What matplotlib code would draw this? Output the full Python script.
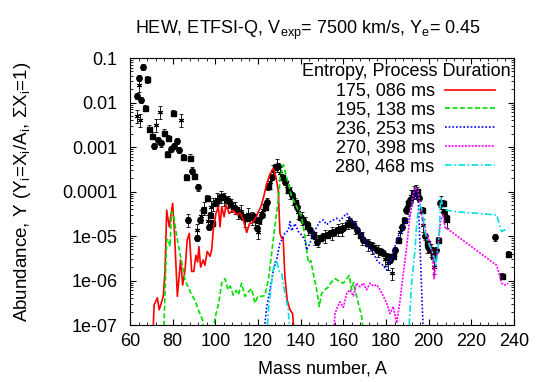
import numpy as np
import matplotlib
matplotlib.use("Agg")
import matplotlib.pyplot as plt
from matplotlib.ticker import FixedLocator, MultipleLocator, LogLocator, NullFormatter

plt.rcParams['font.family'] = ['Liberation Sans', 'DejaVu Sans']
plt.rcParams['mathtext.fontset'] = 'custom'
plt.rcParams['mathtext.rm'] = 'Liberation Sans'
plt.rcParams['mathtext.it'] = 'Liberation Sans'

# HEW model curves: (mass number, abundance)
red_A = [70.5, 71.3, 72.8, 73.7, 75.6, 76.4, 77.2, 78.4, 80, 80.8, 82.2, 83.7, 84.7, 85.8, 86.8,
         87.8, 88.9, 89.9, 90.9, 91.7, 92.3, 93.1, 94.3, 95.1, 96.2, 97.5, 98.3, 99.0, 100.3,
         101.4, 102.2, 103, 104.1, 105, 106.5, 108.3, 110, 111.6, 113.1, 114.7, 116, 117.5, 119,
         120.1, 121.3, 122.5, 124.1, 125.5, 127.2, 128.3, 129.5, 130.3, 131.1, 131.8, 132.6,
         133.7, 135.0, 136.2, 137.2]
red_Y = [3e-8, 2.8e-7, 4.1e-7, 2.2e-7, 4.4e-7, 1.6e-6, 3.8e-5, 1.6e-5, 5.4e-5, 1.35e-5, 4.4e-7,
         2.9e-6, 7.9e-7, 1.7e-6, 8.1e-6, 1.15e-5, 1.6e-6, 1.6e-6, 3.7e-6, 2.6e-6, 5.8e-6, 2.0e-6,
         2.9e-6, 2.2e-6, 4.5e-6, 3.5e-6, 4.9e-6, 1.35e-5, 3.2e-5, 4.6e-5, 1.6e-5, 4.6e-5, 2.7e-5,
         5.0e-5, 3.2e-5, 3.8e-5, 3.0e-5, 3.3e-5, 2.3e-5, 1.2e-5, 1.9e-5, 2.0e-5, 2.6e-5, 3.5e-5,
         4.5e-5, 7.1e-5, 1.5e-4, 2.4e-4, 3.3e-4, 2.2e-4, 1.07e-4, 1.15e-5, 8.9e-6, 9e-6, 1.23e-6,
         3.6e-7, 2.2e-7, 1.8e-7, 5e-8]

green_A = [75.6, 77.2, 78, 78.75, 79.5, 80.3, 81.9, 83.4, 85, 85.8, 87.3, 88.9, 90.5, 92, 94, 95,
           98.5, 99.8, 101.5, 103, 104.5, 106, 107, 108.4, 109.8, 110.8, 112.3, 113.9, 115.4, 117,
           118.6, 120, 121.7, 123.2, 124.8, 126.4, 128, 129.5, 130.5, 131.9, 134.2, 135.8, 138.1,
           140.4, 142, 143.6, 144.8, 145.9, 147.5, 148.7, 149.8, 151.4, 153, 154.5, 156.1, 157.5,
           158.5, 160, 161.6, 162.8, 163.9, 164.8, 165.9, 167, 168.6, 169.8]
green_Y = [3e-8, 8.1e-6, 8.5e-6, 5.8e-6, 3.5e-5, 3.2e-5, 9.8e-6, 4.1e-6, 1.7e-6, 1.0e-6, 7.2e-7,
           4.7e-7, 3.6e-7, 2.2e-7, 1.3e-7, 5e-8, 5e-8, 1.4e-7, 3e-7, 8.7e-7, 1.1e-6, 6.2e-7, 7.5e-7,
           4.7e-7, 6e-7, 4.8e-7, 8.7e-7, 4.4e-7, 5.5e-7, 6.6e-7, 3.1e-7, 4.5e-7, 4.4e-7, 4.6e-7,
           1.0e-6, 4.1e-6, 1.8e-5, 6.5e-5, 2.2e-4, 4.0e-4, 1.5e-4, 7.6e-5, 4.6e-5, 2.7e-5, 9.8e-6,
           2.5e-6, 2.8e-6, 1.45e-6, 6.2e-7, 2.6e-7, 5.1e-7, 6.2e-7, 7.2e-7, 9.3e-7, 1.1e-6, 1.0e-6,
           9.3e-7, 8.7e-7, 1.1e-6, 1.3e-6, 6.2e-7, 9e-7, 5.1e-7, 3.1e-7, 1.55e-7, 5e-8]

blue_A = [122.5, 124.1, 125.6, 127.2, 128.7, 130.3, 131.1, 132.6, 134.2, 135, 135.8, 137.3, 138.9,
          140.5, 142, 142.8, 144.4, 145.9, 147.5, 149.1, 150.6, 152.2, 153.8, 155.3, 156.9, 158.4,
          160, 161.6, 163.1, 164.7, 166.2, 167.8, 169.4, 170.9, 172.5, 174.1, 175.6, 177.2, 178.8,
          180.3, 181.5, 182.6, 184.2, 185.7, 187.3, 189.7, 191.2, 192.8, 194, 195.1, 195.9, 196.7,
          197.6]
blue_Y = [5e-8, 2.6e-7, 6.2e-7, 1.7e-6, 2.9e-6, 6.9e-6, 8.1e-6, 1.15e-5, 1.35e-5, 2.1e-5, 1.3e-5,
          1.9e-5, 1.26e-5, 1.05e-5, 8.1e-6, 4.9e-6, 6.9e-6, 1.15e-5, 1.6e-5, 2.1e-5, 2.3e-5, 1.8e-5,
          2.1e-5, 2.3e-5, 2.5e-5, 2.2e-5, 2.7e-5, 3.2e-5, 2.6e-5, 2.1e-5, 1.6e-5, 1.26e-5, 8.9e-6,
          6.9e-6, 5.2e-6, 4.1e-6, 2.9e-6, 2.4e-6, 2.2e-6, 1.7e-6, 2.4e-6, 2.9e-6, 5.8e-6, 9.8e-6,
          1.35e-5, 2.1e-5, 2.95e-5, 6.5e-5, 1.0e-4, 6.5e-5, 6.9e-6, 6.2e-7, 5e-8]

magenta_A = [155.3, 156.1, 157.2, 158.4, 160, 161.6, 163.1, 164.7, 166.2, 167.8, 169.4, 170.9,
             172.5, 174.1, 175.6, 177.2, 178.8, 180.3, 181.9, 183.4, 185, 186.6, 188.1, 189.7,
             191.2, 192.8, 194, 195.1, 195.9, 197.4, 199, 200.6, 201.8, 202.6, 203.4, 204.5,
             205.6, 206.8, 207.6, 208.4, 230.3, 231.9, 234.2, 235.8, 237.3]
magenta_Y = [5e-8, 1.8e-7, 2.5e-7, 3.3e-7, 2.5e-7, 5.1e-7, 6.2e-7, 4.5e-7, 8.7e-7, 7.2e-7, 8.7e-7,
             6.2e-7, 8.7e-7, 7.5e-7, 8e-7, 6.2e-7, 4.4e-7, 3.1e-7, 1.8e-7, 2.6e-7, 1.1e-7, 3.6e-7,
             1.45e-6, 5.8e-6, 2.7e-5, 9.1e-5, 1.23e-4, 1.0e-4, 5.4e-5, 1.9e-5, 1.15e-5, 6.9e-6,
             4.1e-6, 1.1e-6, 2.5e-6, 6.9e-6, 2.3e-5, 3.0e-5, 1.6e-5, 1.5e-5, 2.5e-6, 2.2e-6, 8.7e-7,
             7.9e-7, 8.7e-7]

cyan_A = [124, 125, 126, 127, 128, 129, 130, 131.1, 132.6, 134.2, 135, np.nan,
          190.5, 192, 193.6, 194.4, 195.1, 195.9, 196.6, 197.4, 198.2, 199, 200.6, 202.1, 203.4,
          204.5, 205.3, 205.6, 206.8, 208.4, 213.1, 224, 231.9, 234.2, 237.3]
cyan_Y = [5e-8, 2.5e-7, 6.3e-7, 1.6e-6, 2.8e-6, 2.5e-6, 1.6e-6, 1.45e-6, 5.1e-7, 2.2e-7, 5e-8,
          np.nan, 5e-8, 8.7e-7, 4.9e-6, 1.9e-5, 3.5e-5, 5.0e-5, 4.2e-5, 2.95e-5, 1.35e-5, 8.9e-6,
          5.8e-6, 4.1e-6, 2.2e-6, 5.8e-6, 2.7e-5, 7.6e-5, 4.2e-5, 3.8e-5, 3.5e-5, 3.2e-5, 2.95e-5,
          1.26e-5, 1.5e-5]

# observed abundances (black points)
circ_A = [63.1, 64.2, 65.2, 66, 71.4, 73, 74.5, 79, 80.7, 81.9, 83, 88.9, 92, 92.8, 97.2, 91.2,
          87.3, 100.9, 103.7, 106.9, 110, 113.1, 116.3, 119.4, 121.7, 124.1, 126.4, 129.5, 132.6,
          135.8, 138.1, 141.2, 144.4, 147.5, 150.6, 153.8, 156.9, 160, 163.1, 166.2, 169.4, 172.5,
          175.6, 178.8, 181.9, 184.2, 187.3, 189.4, 191.2, 193.6, 195.6, 198.2, 199.8, 201.4,
          203.4, 205.3, 207.2, 231.1]
circ_Y = [1.4e-2, 3.5e-2, 1.15e-2, 6.2e-2, 1.05e-3, 1.4e-3, 1.2e-3, 8.9e-4, 1.05e-3, 1.35e-3,
          8.5e-4, 2.95e-4, 1.23e-4, 2.3e-5, 1.6e-5, 8.9e-6, 2.3e-5, 6.2e-5, 7.4e-5, 5.4e-5, 3.8e-5,
          2.7e-5, 2.7e-5, 1.5e-5, 3.0e-5, 5.9e-5, 2.1e-4, 3.7e-4, 1.66e-4, 8.3e-5, 4.6e-5, 2.3e-5,
          1.35e-5, 7.4e-6, 9.8e-6, 1.15e-5, 1.35e-5, 1.5e-5, 2.1e-5, 1.35e-5, 8.1e-6, 6.2e-6,
          4.9e-6, 4.1e-6, 2.9e-6, 4.9e-6, 1.6e-5, 3.8e-5, 6.5e-5, 1.0e-4, 7.1e-5, 9.8e-6, 5.8e-6,
          4.5e-6, 4.9e-6, 5.4e-5, 3.5e-5, 9.3e-6]

sq_A = [68.1, 67, 69, 70.2, 76, 78, 80, 77.2, 85, 88.1, 86.3, 90, 95.9, 102.2, 94, 97.5, 98.3,
        99.8, 105.3, 108.4, 111.6, 114.7, 117.8, 120.2, 123.3, 124.8, 128, 131.1, 134.2, 137.3,
        139.7, 142.8, 145.9, 149.1, 152.2, 155.3, 158.4, 161.6, 164.7, 167.8, 170.9, 174.1,
        177.2, 180.3, 183.4, 185.7, 188.4, 190.5, 192.5, 194.7, 196.7, 199, 200.6, 202.1, 204.5,
        206.5, 208.1, 234.2, 237.3]
sq_Y = [3.3e-2, 7.6e-3, 2.6e-3, 1.8e-3, 2.1e-3, 1.6e-3, 5.8e-3, 6.9e-4, 6.0e-4, 5.8e-4, 2.1e-4,
        2.2e-4, 7.1e-5, 7.4e-5, 3.8e-5, 3.0e-5, 1.95e-5, 5.6e-5, 6.5e-5, 4.6e-5, 3.2e-5, 2.6e-5,
        2.8e-5, 2.3e-5, 4.6e-5, 1.3e-4, 3.6e-4, 2.1e-4, 1.07e-4, 5.9e-5, 2.7e-5, 1.8e-5, 1.05e-5,
        8.9e-6, 1.05e-5, 1.2e-5, 1.4e-5, 1.9e-5, 1.8e-5, 1.05e-5, 6.9e-6, 5.8e-6, 4.5e-6, 3.5e-6,
        3.5e-6, 8.1e-6, 2.3e-5, 5.4e-5, 9.1e-5, 1.05e-4, 3.8e-5, 6.9e-6, 5.2e-6, 3.5e-6, 8.1e-6,
        5.6e-5, 2.5e-5, 1.26e-6, 4.0e-6]

star_A = [63.5, 64.5, 64, 72.2, 74.1, 84, 87.3, 91.2, 93.5, 94.5, 96.5, 98, 99, 101, 102.5, 104,
          105.8, 107.5, 109, 110.5, 112, 114, 115.5, 117, 118.5, 120, 121, 122.5, 125.5, 127,
          128.8, 130.3, 133.4, 135, 136.5, 138.9, 140.5, 142, 143.6, 146.7, 148.3, 151.4, 154.5,
          157.7, 159.2, 162.3, 165.5, 168.6, 171.7, 173.3, 176.4, 179.6, 181.1, 182.6, 186.5,
          189.9, 191.8, 193, 194.2, 197.4, 199.4, 201, 202.5, 205.9, 207.6, 208.6]
star_Y = [5e-3, 4e-3, 2.5e-2, 3.1e-3, 6.2e-3, 4.1e-3, 2.3e-5, 1.35e-5, 2.8e-5, 4.2e-5, 2.2e-5,
          4.5e-5, 5.2e-5, 6.8e-5, 7.8e-5, 6.9e-5, 6.0e-5, 5.0e-5, 4.4e-5, 3.4e-5, 3.6e-5, 2.3e-5,
          3.1e-5, 2.5e-5, 2.2e-5, 1.2e-5, 2.6e-5, 3.8e-5, 1.6e-4, 2.9e-4, 3.9e-4, 2.6e-4, 1.3e-4,
          9.5e-5, 7e-5, 3.5e-5, 2.5e-5, 2.0e-5, 1.5e-5, 9e-6, 8e-6, 1.0e-5, 1.15e-5, 1.4e-5,
          1.45e-5, 2.0e-5, 1.6e-5, 9e-6, 6.5e-6, 5.5e-6, 4.7e-6, 3.0e-6, 2.5e-6, 1.45e-6, 1.2e-5,
          4.5e-5, 8e-5, 9.8e-5, 1.02e-4, 1.8e-5, 6e-6, 4.8e-6, 2.0e-6, 5.8e-5, 3e-5, 2.2e-5]

series = [
    ("175, 086 ms", red_A, red_Y, "#ff0000", "-"),
    ("195, 138 ms", green_A, green_Y, "#00dd00", (0, (3, 1.5))),
    ("236, 253 ms", blue_A, blue_Y, "#0000ff", (0, (1, 1.2))),
    ("270, 398 ms", magenta_A, magenta_Y, "#ff00ff", (0, (1.2, 0.8))),
    ("280, 468 ms", cyan_A, cyan_Y, "#00e0e0", (0, (4, 1.5, 1, 1.5))),
]

fig = plt.figure(figsize=(5.45, 3.82), dpi=100)
ax = fig.add_axes([130 / 545, 1 - 325 / 382, 384 / 545, 267 / 382])

# observations
Ys = np.array(star_Y)
ax.errorbar(star_A, Ys, yerr=[Ys * 0.3, Ys * 0.35], fmt="none", ecolor="black",
            elinewidth=0.6, capsize=1.2, capthick=0.6, zorder=3)
ax.plot(star_A, Ys, ls="none", marker=(6, 2, 0), color="black", ms=4, mew=0.7, zorder=3)
for A, Y, m, ms in [(circ_A, circ_Y, "o", 3.9), (sq_A, sq_Y, "s", 3.6)]:
    Y = np.array(Y)
    ax.errorbar(A, Y, yerr=[Y * 0.15, Y * 0.18], fmt=m, color="black", ms=ms,
                elinewidth=0.6, capsize=1.2, capthick=0.6, zorder=3)

for label, A, Y, c, ls in series:
    ax.plot(A, Y, color=c, ls=ls, lw=1.2, label=label, zorder=4)

ax.set_yscale("log")
ax.set_xlim(60, 240)
ax.set_ylim(1e-7, 0.1)
ax.xaxis.set_major_locator(MultipleLocator(20))
ax.xaxis.set_minor_locator(MultipleLocator(4))
yt = [0.1, 0.01, 0.001, 0.0001, 1e-5, 1e-6, 1e-7]
ax.yaxis.set_major_locator(FixedLocator(yt))
ax.set_yticklabels(["0.1", "0.01", "0.001", "0.0001", "1e-05", "1e-06", "1e-07"])
ax.yaxis.set_minor_locator(LogLocator(base=10, subs=np.arange(2, 10)))
ax.yaxis.set_minor_formatter(NullFormatter())
ax.tick_params(which="both", direction="in", top=True, right=True, labelsize=13)
ax.tick_params(which="major", length=4, width=0.8)
ax.tick_params(which="minor", length=2, width=0.6)
ax.tick_params(axis="y", pad=9)
ax.tick_params(axis="x", pad=6)

ax.set_xlabel("Mass number, A", fontsize=13, labelpad=7.5)
ax.set_ylabel(r"Abundance, Y (Y$_\mathrm{i}$=X$_\mathrm{i}$/A$_\mathrm{i}$, $\Sigma$X$_\mathrm{i}$=1)",
              fontsize=13.5, labelpad=21)
fig.text(308 / 545, 1 - 30 / 382,
         r"HEW, ETFSI-Q, V$_\mathrm{exp}$= 7500 km/s, Y$_\mathrm{e}$= 0.45",
         ha="center", va="center", fontsize=13)

# key, gnuplot style: right-justified text, sample to the right
ax.text((511 - 130) / 384, (325 - 72) / 267, "Entropy, Process Duration", transform=ax.transAxes,
        ha="right", va="center", fontsize=13)
leg = ax.legend(loc="upper right", bbox_to_anchor=((495 - 130) / 384, (325 - 83) / 267),
                frameon=False, markerfirst=False, fontsize=13, handlelength=2.75,
                labelspacing=0.1, borderaxespad=0, borderpad=0, handletextpad=0.6)

fig.savefig("out.png", dpi=100)
